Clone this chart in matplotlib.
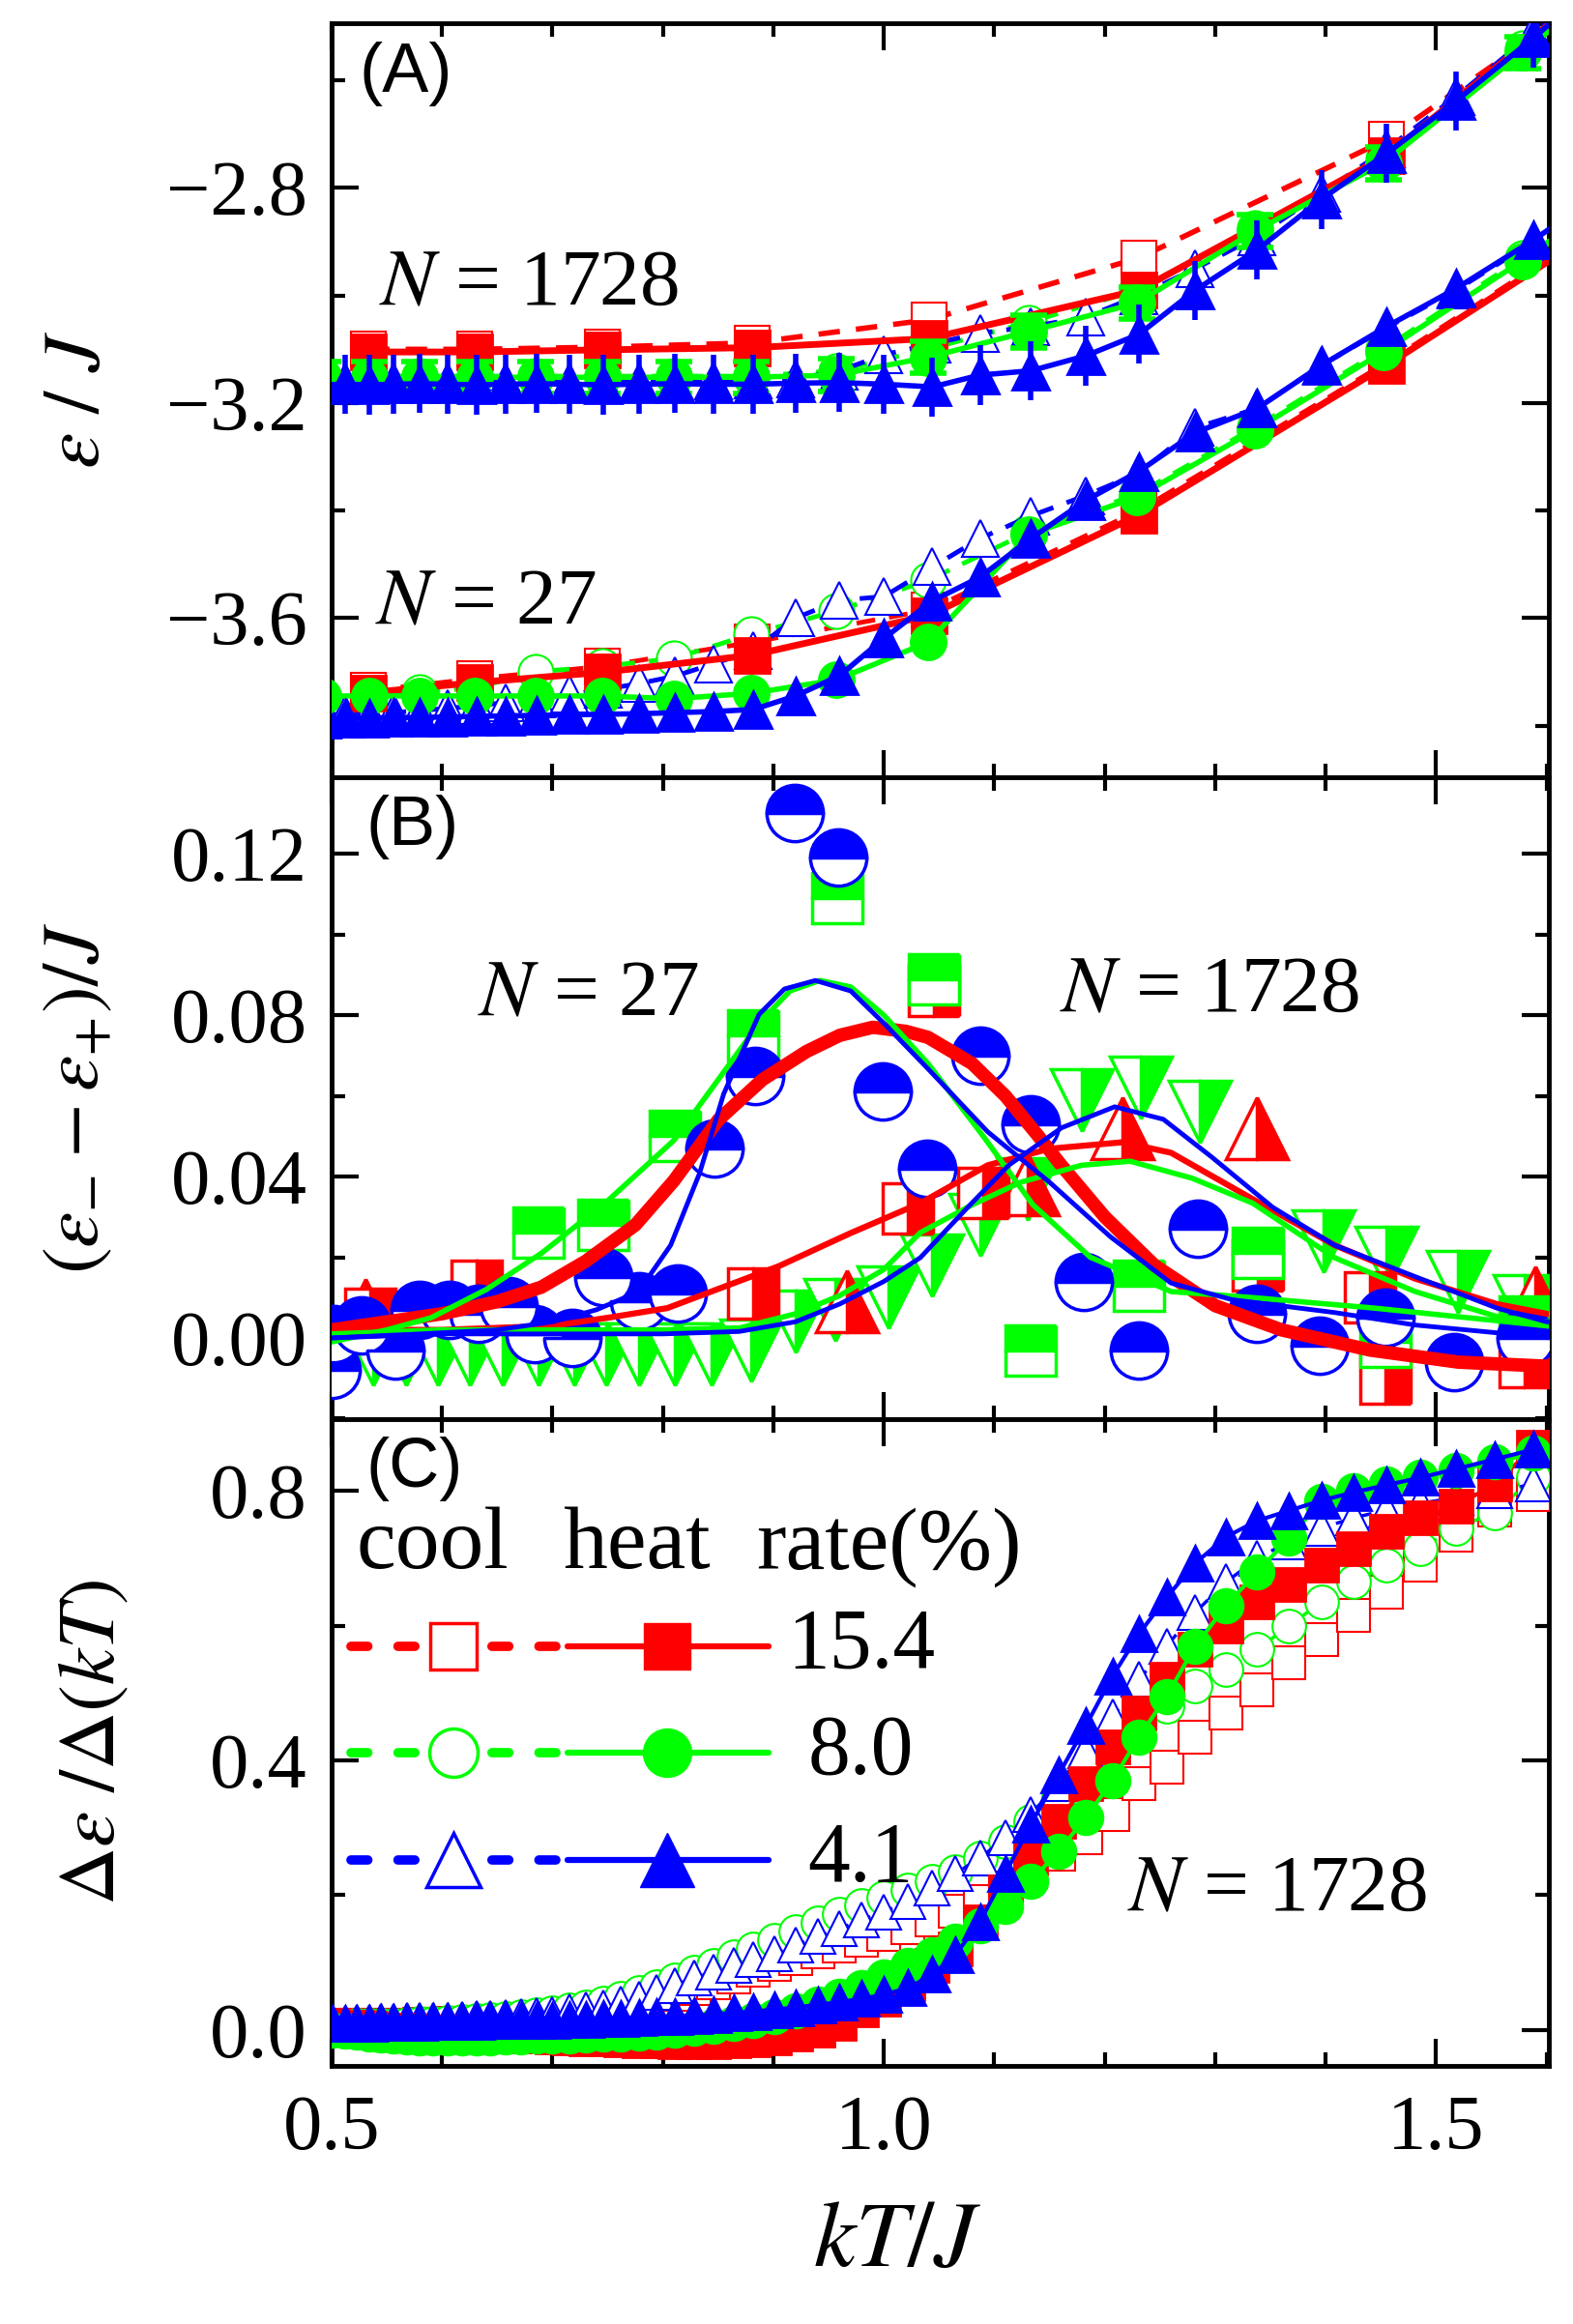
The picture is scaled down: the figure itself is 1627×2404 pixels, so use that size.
import matplotlib
matplotlib.use("Agg")
import matplotlib.pyplot as plt
from matplotlib.ticker import MultipleLocator, FormatStrFormatter

plt.rcParams['font.family'] = ['Liberation Sans', 'DejaVu Sans']
plt.rcParams['mathtext.fontset'] = 'stix'
plt.rcParams['axes.unicode_minus'] = True

RED, GREEN, BLUE = '#ff0000', '#00ff00', '#0000ff'
SERIF = 'Liberation Serif'

# ---------------- panel A data (energy per spin) ----------------
# temperature grids of the three rates (15.4 %, 8.0 %, 4.1 %)
a_red_x = [0.533, 0.630, 0.745, 0.881, 1.041, 1.231, 1.455, 1.720]
a_grn_x = [0.492, 0.534, 0.580, 0.630, 0.685, 0.745, 0.810, 0.880,
           0.957, 1.040, 1.131, 1.229, 1.336, 1.452, 1.578, 1.716]
a_blu_x = [0.491, 0.512, 0.534, 0.556, 0.580, 0.605, 0.631, 0.658, 0.686, 0.715,
           0.746, 0.778, 0.811, 0.846, 0.882, 0.920, 0.960, 1.000, 1.044, 1.087,
           1.133, 1.183, 1.231, 1.282, 1.338, 1.396, 1.455, 1.518, 1.588, 1.656]

# N = 1728
a1728_red_heat = [-3.105, -3.105, -3.101, -3.097, -3.080, -2.990, -2.740, -2.300]
a1728_red_cool = [-3.100, -3.100, -3.096, -3.088, -3.045, -2.930, -2.710, -2.330]
a1728_grn_heat = [-3.152, -3.152, -3.152, -3.152, -3.152, -3.152, -3.152, -3.152,
                  -3.148, -3.115, -3.067, -3.014, -2.880, -2.754, -2.548, -2.320]
a1728_grn_cool = [-3.150, -3.150, -3.150, -3.150, -3.150, -3.150, -3.150, -3.150,
                  -3.140, -3.100, -3.050, -2.990, -2.875, -2.745, -2.540, -2.310]
a1728_blu_heat = [-3.166, -3.165, -3.166, -3.165, -3.164, -3.165, -3.166, -3.165, -3.164, -3.165,
                  -3.166, -3.165, -3.164, -3.165, -3.165, -3.163, -3.162, -3.165, -3.170, -3.148,
                  -3.140, -3.112, -3.072, -2.990, -2.915, -2.821, -2.736, -2.638, -2.521, -2.400]
a1728_blu_cool = [-3.160, -3.160, -3.160, -3.160, -3.160, -3.160, -3.160, -3.160, -3.160, -3.160,
                  -3.160, -3.160, -3.160, -3.158, -3.157, -3.155, -3.140, -3.110, -3.090, -3.070,
                  -3.058, -3.040, -3.000, -2.950, -2.890, -2.810, -2.728, -2.630, -2.512, -2.395]
# N = 27
a27_red_heat = [-3.739, -3.720, -3.701, -3.669, -3.595, -3.408, -3.130, -2.780]
a27_red_cool = [-3.735, -3.713, -3.690, -3.645, -3.585, -3.400, -3.125, -2.775]
a27_grn_heat = [-3.745, -3.745, -3.745, -3.745, -3.745, -3.745, -3.750, -3.740,
                -3.715, -3.645, -3.445, -3.375, -3.250, -3.105, -2.935, -2.750]
a27_grn_cool = [-3.745, -3.742, -3.738, -3.730, -3.700, -3.690, -3.675, -3.630,
                -3.587, -3.530, -3.440, -3.370, -3.245, -3.100, -2.930, -2.750]
a27_blu_heat = [-3.788, -3.787, -3.786, -3.785, -3.785, -3.784, -3.783, -3.782, -3.781, -3.780,
                -3.779, -3.778, -3.776, -3.774, -3.770, -3.745, -3.707, -3.638, -3.568, -3.524,
                -3.452, -3.381, -3.327, -3.255, -3.210, -3.130, -3.058, -2.987, -2.897, -2.800]
a27_blu_cool = [-3.780, -3.779, -3.778, -3.776, -3.772, -3.768, -3.763, -3.757, -3.750, -3.742,
                -3.733, -3.722, -3.708, -3.685, -3.660, -3.600, -3.567, -3.560, -3.505, -3.452,
                -3.410, -3.372, -3.330, -3.246, -3.210, -3.130, -3.060, -2.990, -2.900, -2.800]

# ---------------- panel B data (hysteresis) ----------------
b_circ_x = [0.500, 0.502, 0.527, 0.558, 0.580, 0.607, 0.633, 0.660, 0.684, 0.718,
            0.746, 0.778, 0.813, 0.847, 0.883, 0.919, 0.959, 0.999, 1.039, 1.087,
            1.133, 1.181, 1.231, 1.284, 1.338, 1.395, 1.454, 1.516, 1.581]
b_circ_y = [-0.008, 0.001, 0.003, -0.003, 0.007, 0.007, 0.006, 0.008, 0.001, 0.000,
            0.015, 0.009, 0.011, 0.047, 0.065, 0.130, 0.119, 0.061, 0.042, 0.070,
            0.053, 0.014, -0.003, 0.027, 0.006, -0.002, 0.005, -0.006, 0.000]
b_gsq_x = [0.687, 0.746, 0.811, 0.882, 0.958, 1.045, 1.133, 1.231, 1.339, 1.454, 1.580]
b_gsq_y = [0.026, 0.028, 0.050, 0.075, 0.109, 0.089, -0.003, 0.013, 0.021, -0.001, 0.004]
b_rsq_x = [0.535, 0.631, 0.882, 1.022, 1.045, 1.090, 1.339, 1.440, 1.454, 1.580]
b_rsq_y = [0.006, 0.013, 0.011, 0.032, 0.086, 0.036, 0.018, 0.010, -0.010, -0.006]
b_rtri_x = [0.531, 0.967, 1.130, 1.216, 1.338, 1.590]
b_rtri_y = [0.007, 0.009, 0.038, 0.052, 0.052, 0.010]
b_gtri_x = [0.509, 0.538, 0.567, 0.596, 0.625, 0.655, 0.687, 0.720, 0.749, 0.778,
            0.811, 0.844, 0.880, 0.920, 0.956, 1.004, 1.044, 1.087, 1.130, 1.179,
            1.233, 1.286, 1.398, 1.455, 1.520, 1.580]
b_gtri_y = [-0.004, -0.004, -0.004, -0.004, -0.004, -0.004, -0.004, -0.004, -0.004, -0.004,
            -0.004, -0.004, -0.003, 0.004, 0.007, 0.010, 0.018, 0.028, 0.037, 0.059,
            0.062, 0.056, 0.024, 0.020, 0.014, 0.008]

fit27_red_x = [0.50, 0.55, 0.60, 0.65, 0.69, 0.73, 0.775, 0.81, 0.85, 0.89, 0.93, 0.96, 0.99,
               1.02, 1.04, 1.08, 1.11, 1.14, 1.16, 1.20, 1.245, 1.30, 1.36, 1.44, 1.52, 1.60]
fit27_red_y = [0.002, 0.004, 0.006, 0.009, 0.0126, 0.019, 0.028, 0.039, 0.054, 0.064, 0.071, 0.075, 0.077,
               0.076, 0.0745, 0.068, 0.060, 0.050, 0.043, 0.030, 0.018, 0.008, 0.002, -0.003, -0.006, -0.007]
fit27_grn_x = [0.50, 0.55, 0.59, 0.64, 0.69, 0.75, 0.81, 0.85, 0.887, 0.915, 0.942, 0.97, 1.00,
               1.04, 1.09, 1.135, 1.187, 1.26, 1.334, 1.444, 1.60]
fit27_grn_y = [-0.001, 0.002, 0.005, 0.012, 0.021, 0.034, 0.049, 0.064, 0.078, 0.086, 0.0886, 0.087, 0.080,
               0.068, 0.050, 0.033, 0.020, 0.0115, 0.010, 0.0074, 0.003]
fit27_blu_x = [0.50, 0.58, 0.65, 0.70, 0.74, 0.778, 0.807, 0.833, 0.855, 0.887, 0.91, 0.938, 0.97,
               1.00, 1.04, 1.094, 1.15, 1.205, 1.26, 1.315, 1.408, 1.481, 1.60]
fit27_blu_y = [0.0, 0.001, 0.002, 0.004, 0.007, 0.0115, 0.023, 0.0407, 0.0605, 0.0802, 0.0865, 0.0886, 0.086,
               0.078, 0.0667, 0.0511, 0.0386, 0.0251, 0.0136, 0.0095, 0.0063, 0.0032, 0.0001]
fit1728_red_x = [0.50, 0.60, 0.70, 0.75, 0.804, 0.905, 0.97, 1.033, 1.094, 1.15, 1.216, 1.26,
                 1.334, 1.408, 1.481, 1.555, 1.60]
fit1728_red_y = [0.002, 0.002, 0.003, 0.005, 0.0074, 0.0178, 0.026, 0.0334, 0.0428, 0.0469, 0.0485, 0.0459,
                 0.0344, 0.023, 0.0147, 0.0084, 0.006]
fit1728_blu_x = [0.50, 0.60, 0.70, 0.80, 0.869, 0.92, 0.96, 1.00, 1.033, 1.076, 1.113, 1.161, 1.209,
                 1.253, 1.297, 1.352, 1.408, 1.481, 1.555, 1.60]
fit1728_blu_y = [0.0, 0.001, 0.001, 0.001, 0.0016, 0.004, 0.0084, 0.014, 0.0199, 0.0324, 0.0428, 0.0521, 0.0573,
                 0.0542, 0.0448, 0.0324, 0.023, 0.0152, 0.0074, 0.004]
fit1728_grn_x = [0.50, 0.60, 0.70, 0.80, 0.87, 0.92, 0.96, 1.00, 1.033, 1.08, 1.124, 1.179, 1.223,
                 1.279, 1.334, 1.408, 1.481, 1.555, 1.60]
fit1728_grn_y = [0.001, 0.002, 0.002, 0.002, 0.0025, 0.006, 0.0105, 0.017, 0.0261, 0.033, 0.0386, 0.0428, 0.0438,
                 0.0396, 0.0334, 0.0199, 0.0115, 0.0053, 0.004]

# ---------------- panel C data (N = 1728) ----------------
c_x = [0.501, 0.512, 0.523, 0.534, 0.545, 0.556, 0.568, 0.580, 0.592, 0.605,
       0.618, 0.631, 0.644, 0.658, 0.672, 0.686, 0.700, 0.715, 0.730, 0.746,
       0.762, 0.778, 0.794, 0.811, 0.828, 0.846, 0.864, 0.882, 0.901, 0.920,
       0.940, 0.960, 0.980, 1.000, 1.022, 1.044, 1.065, 1.087, 1.110, 1.133,
       1.158, 1.183, 1.207, 1.231, 1.256, 1.282, 1.310, 1.338, 1.367, 1.396,
       1.425, 1.455, 1.486, 1.518, 1.553, 1.588]
c_blu_heat = [0.010, 0.010, 0.010, 0.010, 0.011, 0.011, 0.011, 0.011, 0.012, 0.012,
              0.012, 0.012, 0.013, 0.013, 0.013, 0.014, 0.014, 0.015, 0.015, 0.016,
              0.017, 0.018, 0.019, 0.020, 0.021, 0.023, 0.025, 0.027, 0.030, 0.033,
              0.037, 0.041, 0.046, 0.052, 0.062, 0.082, 0.112, 0.160, 0.232, 0.305,
              0.378, 0.452, 0.525, 0.588, 0.642, 0.693, 0.732, 0.756, 0.771, 0.786,
              0.798, 0.809, 0.820, 0.833, 0.847, 0.862]
c_grn_heat = [0.000, -0.002, -0.004, -0.006, -0.008, -0.010, -0.011, -0.012, -0.012, -0.012,
              -0.012, -0.012, -0.012, -0.011, -0.011, -0.010, -0.010, -0.009, -0.008, -0.007,
              -0.006, -0.005, -0.003, -0.001, 0.002, 0.005, 0.009, 0.014, 0.020, 0.028,
              0.038, 0.050, 0.063, 0.078, 0.095, 0.112, 0.132, 0.155, 0.183, 0.220,
              0.265, 0.315, 0.370, 0.435, 0.495, 0.570, 0.630, 0.680, 0.730, 0.785,
              0.800, 0.810, 0.820, 0.831, 0.843, 0.856]
c_red_heat = [0.005, 0.004, 0.003, 0.002, 0.001, 0.000, -0.001, -0.002, -0.003, -0.004,
              -0.005, -0.006, -0.007, -0.008, -0.009, -0.010, -0.011, -0.012, -0.013, -0.014,
              -0.015, -0.016, -0.017, -0.018, -0.018, -0.018, -0.017, -0.015, -0.012, -0.007,
              0.000, 0.010, 0.030, 0.045, 0.068, 0.095, 0.120, 0.160, 0.205, 0.255,
              0.310, 0.365, 0.420, 0.470, 0.520, 0.565, 0.600, 0.635, 0.662, 0.690,
              0.715, 0.740, 0.760, 0.778, 0.810, 0.865]
c_blu_cool = [0.010, 0.010, 0.011, 0.011, 0.012, 0.012, 0.013, 0.013, 0.014, 0.014,
              0.015, 0.016, 0.017, 0.018, 0.019, 0.021, 0.023, 0.026, 0.029, 0.033,
              0.038, 0.045, 0.055, 0.066, 0.077, 0.086, 0.095, 0.104, 0.113, 0.125,
              0.138, 0.150, 0.163, 0.175, 0.190, 0.210, 0.232, 0.255, 0.285, 0.320,
              0.365, 0.415, 0.465, 0.520, 0.570, 0.620, 0.665, 0.700, 0.725, 0.745,
              0.760, 0.772, 0.782, 0.790, 0.800, 0.810]
c_grn_cool = [0.005, 0.005, 0.006, 0.006, 0.007, 0.007, 0.008, 0.009, 0.010, 0.011,
              0.012, 0.013, 0.015, 0.017, 0.019, 0.022, 0.025, 0.029, 0.034, 0.040,
              0.047, 0.055, 0.064, 0.074, 0.085, 0.096, 0.108, 0.120, 0.133, 0.146,
              0.159, 0.172, 0.184, 0.196, 0.208, 0.220, 0.235, 0.255, 0.280, 0.310,
              0.345, 0.380, 0.415, 0.450, 0.480, 0.510, 0.535, 0.565, 0.600, 0.635,
              0.665, 0.690, 0.715, 0.745, 0.768, 0.820]
c_red_cool = [0.006, 0.006, 0.006, 0.006, 0.007, 0.007, 0.007, 0.008, 0.008, 0.009,
              0.009, 0.010, 0.011, 0.012, 0.013, 0.015, 0.017, 0.019, 0.022, 0.026,
              0.031, 0.037, 0.044, 0.052, 0.061, 0.070, 0.079, 0.088, 0.097, 0.106,
              0.115, 0.124, 0.133, 0.142, 0.152, 0.163, 0.176, 0.190, 0.210, 0.235,
              0.260, 0.285, 0.320, 0.365, 0.390, 0.435, 0.470, 0.505, 0.545, 0.580,
              0.615, 0.650, 0.690, 0.735, 0.772, 0.795]

rates = ['15.4', '8.0', '4.1']

# ---------------- figure ----------------
fig = plt.figure(figsize=(16.27, 24.04), dpi=100)
L, W = 0.2108, 0.7738
axA = fig.add_axes([L, 0.6656, W, 0.3245])
axB = fig.add_axes([L, 0.3894, W, 0.2762])
axC = fig.add_axes([L, 0.1111, W, 0.2783])

for ax in (axA, axB, axC):
    ax.set_xlim(0.5, 1.602)
    ax.xaxis.set_major_locator(MultipleLocator(0.5))
    ax.xaxis.set_minor_locator(MultipleLocator(0.1))
    ax.tick_params(which='both', direction='in', top=True, right=True, width=3)
    ax.tick_params(which='major', length=20, labelsize=58, labelfontfamily=SERIF)
    ax.tick_params(which='minor', length=10)
    ax.tick_params(axis='x', which='major', pad=22)
    ax.tick_params(axis='y', which='major', pad=18)
    for s in ax.spines.values():
        s.set_linewidth(3.5)
axA.tick_params(labelbottom=False)
axB.tick_params(labelbottom=False)


def line(ax, x, y, c, m, filled, ms, ls='-', lw=4, mew=2, z=3):
    ax.plot(x, y, color=c, linestyle=ls, linewidth=lw, marker=m, markersize=ms,
            markerfacecolor=c if filled else 'white', markeredgecolor=c,
            markeredgewidth=mew, zorder=z)


DASH = (0, (4, 3))

# ---- panel A ----
axA.set_ylim(-3.896, -2.493)
axA.yaxis.set_major_locator(MultipleLocator(0.4))
axA.yaxis.set_minor_locator(MultipleLocator(0.2))
# N = 27
line(axA, a_red_x, a27_red_cool, RED, 's', False, 26, DASH, 3.5, 1.5)
line(axA, a_grn_x, a27_grn_cool, GREEN, 'o', False, 26, DASH, 3.5, 1.5)
line(axA, a_blu_x, a27_blu_cool, BLUE, '^', False, 28, DASH, 3.5, 1.5)
line(axA, a_red_x, a27_red_heat, RED, 's', True, 26, '-', 5)
line(axA, a_grn_x, a27_grn_heat, GREEN, 'o', True, 26, '-', 4)
line(axA, a_blu_x, a27_blu_heat, BLUE, '^', True, 28, '-', 4)
# N = 1728
axA.errorbar(a_red_x, a1728_red_cool, yerr=0.03, fmt='none', ecolor=RED,
             elinewidth=2.5, capsize=12, capthick=2.5, zorder=2)
line(axA, a_red_x, a1728_red_cool, RED, 's', False, 26, DASH, 4, 1.5)
line(axA, a_grn_x, a1728_grn_cool, GREEN, 'o', False, 26, DASH, 3.5, 1.5)
line(axA, a_blu_x, a1728_blu_cool, BLUE, '^', False, 28, DASH, 3.5, 1.5)
line(axA, a_red_x, a1728_red_heat, RED, 's', True, 26, '-', 5)
axA.errorbar(a_grn_x, a1728_grn_heat, yerr=0.03, fmt='none', ecolor=GREEN,
             elinewidth=4, capsize=14, capthick=4, zorder=3)
line(axA, a_grn_x, a1728_grn_heat, GREEN, 'o', True, 26, '-', 4)
axA.errorbar(a_blu_x, a1728_blu_heat, yerr=0.055, fmt='none', ecolor=BLUE,
             elinewidth=4, capsize=0, zorder=4)
line(axA, a_blu_x, a1728_blu_heat, BLUE, '^', True, 28, '-', 4, z=4)

axA.text(0.023, 0.975, '(A)', transform=axA.transAxes, fontsize=52, va='top', ha='left')
axA.text(0.039, 0.627, '$N$ = 1728', transform=axA.transAxes, fontsize=60,
         family=SERIF, va='baseline')
axA.text(0.036, 0.204, '$N$ = 27', transform=axA.transAxes, fontsize=60,
         family=SERIF, va='baseline')
axA.set_ylabel(r'$\varepsilon\ /\ J$', fontsize=60)
axA.yaxis.set_label_coords(-0.178, 0.5)

# ---- panel B ----
axB.set_ylim(-0.0201, 0.139)
axB.yaxis.set_major_locator(MultipleLocator(0.04))
axB.yaxis.set_minor_locator(MultipleLocator(0.02))
axB.yaxis.set_major_formatter(FormatStrFormatter('%.2f'))


def half(ax, x, y, c, m, ms, fs, z=3):
    ax.plot(x, y, linestyle='none', marker=m, markersize=ms, fillstyle=fs,
            markerfacecolor=c, markerfacecoloralt='white', markeredgecolor=c,
            markeredgewidth=2.5, zorder=z)


half(axB, b_gtri_x, b_gtri_y, GREEN, 'v', 46, 'right')
half(axB, b_rtri_x, b_rtri_y, RED, '^', 46, 'right')
half(axB, b_rsq_x, b_rsq_y, RED, 's', 38, 'right')
half(axB, b_gsq_x, b_gsq_y, GREEN, 's', 38, 'top')
half(axB, b_circ_x, b_circ_y, BLUE, 'o', 42, 'top', z=4)
axB.plot(fit27_red_x, fit27_red_y, color=RED, lw=10, zorder=5, solid_capstyle='round')
axB.plot(fit1728_red_x, fit1728_red_y, color=RED, lw=4.5, zorder=5)
axB.plot(fit27_grn_x, fit27_grn_y, color=GREEN, lw=4, zorder=6)
axB.plot(fit1728_grn_x, fit1728_grn_y, color=GREEN, lw=4, zorder=6)
axB.plot(fit27_blu_x, fit27_blu_y, color=BLUE, lw=3.5, zorder=7)
axB.plot(fit1728_blu_x, fit1728_blu_y, color=BLUE, lw=3.5, zorder=7)

axB.text(0.028, 0.972, '(B)', transform=axB.transAxes, fontsize=52, va='top', ha='left')
axB.text(0.12, 0.63, '$N$ = 27', transform=axB.transAxes, fontsize=60,
         family=SERIF, va='baseline')
axB.text(0.598, 0.636, '$N$ = 1728', transform=axB.transAxes, fontsize=60,
         family=SERIF, va='baseline')
axB.set_ylabel(r'$(\varepsilon_{-}-\varepsilon_{+})/J$', fontsize=60)
axB.yaxis.set_label_coords(-0.178, 0.5)

# ---- panel C ----
axC.set_ylim(-0.0537, 0.907)
axC.yaxis.set_major_locator(MultipleLocator(0.4))
axC.yaxis.set_minor_locator(MultipleLocator(0.2))
line(axC, c_x, c_red_cool, RED, 's', False, 24, DASH, 2.5, 1.5)
line(axC, c_x, c_grn_cool, GREEN, 'o', False, 25, DASH, 2.5, 1.5)
line(axC, c_x, c_blu_cool, BLUE, '^', False, 26, DASH, 2.5, 1.5)
line(axC, c_x, c_red_heat, RED, 's', True, 24, '-', 3)
line(axC, c_x, c_grn_heat, GREEN, 'o', True, 25, '-', 3)
line(axC, c_x, c_blu_heat, BLUE, '^', True, 26, '-', 3)

axC.text(0.028, 0.973, '(C)', transform=axC.transAxes, fontsize=52, va='top', ha='left')
axC.text(0.654, 0.241, '$N$ = 1728', transform=axC.transAxes, fontsize=60,
         family=SERIF, va='baseline')

# hand-made legend (cool / heat / rate)
for hx, word in zip([0.020, 0.190, 0.349], ['cool', 'heat', 'rate(%)']):
    axC.text(hx, 0.769, word, transform=axC.transAxes, fontsize=66,
             family=SERIF, va='baseline')
key_y = [0.649, 0.4837, 0.318]
lab_x = [0.374, 0.391, 0.391]
key_style = [(RED, 's', 34), (GREEN, 'o', 36), (BLUE, '^', 40)]
for (c, m, ms), ky, lx, lab in zip(key_style, key_y, lab_x, rates):
    axC.plot([0.016, 0.185], [ky, ky], transform=axC.transAxes, color=c, lw=7,
             linestyle=(0, (1.8, 3.2)), dash_capstyle='round', clip_on=False, zorder=8)
    axC.plot([0.100], [ky], transform=axC.transAxes, marker=m, ms=ms, mfc='white',
             mec=c, mew=2.5, linestyle='none', zorder=9)
    axC.plot([0.194, 0.359], [ky, ky], transform=axC.transAxes, color=c, lw=4.5,
             zorder=8, solid_capstyle='round')
    axC.plot([0.276], [ky], transform=axC.transAxes, marker=m, ms=ms, mfc=c,
             mec=c, linestyle='none', zorder=9)
    axC.text(lx, ky, lab, transform=axC.transAxes, fontsize=63,
             family=SERIF, va='center', ha='left')

axC.set_ylabel(r'$\Delta\varepsilon\ /\Delta(kT)$', fontsize=60)
axC.yaxis.set_label_coords(-0.165, 0.5)
axC.set_xlabel(r'$kT/J$', fontsize=70)
axC.xaxis.set_label_coords(0.465, -0.205)

fig.savefig('out.png', dpi=100)
